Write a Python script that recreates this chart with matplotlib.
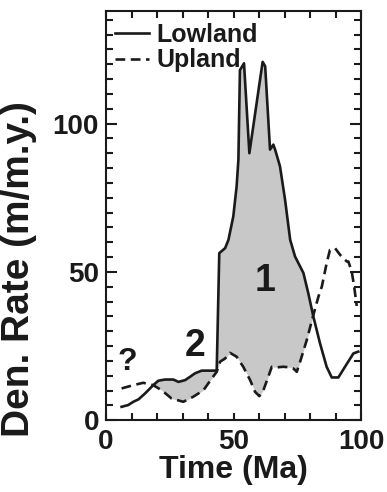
import numpy as np
import matplotlib
matplotlib.use("Agg")
import matplotlib.pyplot as plt

plt.rcParams['font.family'] = ['Liberation Sans', 'DejaVu Sans']
plt.rcParams['font.weight'] = 'bold'
plt.rcParams['lines.scale_dashes'] = False

# lowland (solid) denudation rate
low_t = [6.1, 8.7, 10.7, 12.7, 15.3, 18.5, 20.5, 23.1, 26.4, 28.4, 31.0, 32.9,
         34.9, 37.5, 42.7, 43.4, 44.4, 46.7, 48.0, 49.9, 51.2, 51.9, 52.5, 54.1,
         56.2, 61.4, 62.4, 64.3, 65.6, 66.3, 68.2, 70.2, 72.2, 74.1, 77.4, 79.3,
         81.3, 83.9, 86.5, 88.5, 91.1, 93.7, 97.0, 98.9]
low_r = [4.5, 5.1, 6.2, 7.0, 9.0, 11.8, 13.3, 13.7, 13.7, 12.9, 13.5, 14.6,
         15.8, 16.7, 16.7, 16.9, 56.3, 58.0, 60.8, 68.7, 78.8, 87.8, 118.0, 120.3,
         90.0, 120.8, 119.3, 91.2, 92.9, 91.2, 85.6, 74.3, 60.8, 55.2, 49.6, 42.8,
         34.9, 25.9, 18.0, 14.4, 14.4, 18.0, 22.5, 23.1]

# upland (dashed)
up_t = [6.1, 10.7, 14.6, 18.5, 21.8, 25.7, 30.3, 34.2, 38.2, 41.4, 43.4, 44.7,
        46.7, 48.6, 51.2, 53.8, 56.5, 58.4, 60.1, 61.7, 63.6, 65.0, 66.9, 69.5,
        72.2, 73.5, 74.8, 76.1, 78.7, 81.3, 83.3, 84.6, 86.5, 87.8, 89.8, 91.8,
        94.4, 95.0, 96.3, 97.3, 98.3]
up_r = [10.7, 11.8, 12.6, 11.8, 10.1, 7.3, 6.2, 7.9, 10.1, 14.0, 16.3, 19.7,
        20.8, 22.7, 21.4, 18.0, 13.5, 9.6, 8.1, 10.1, 14.6, 18.0, 17.8, 18.0,
        17.8, 17.4, 16.3, 19.7, 27.0, 35.5, 41.7, 45.0, 52.9, 57.4, 58.0, 55.7,
        53.5, 53.5, 50.3, 45.0, 38.5]

fig = plt.figure(figsize=(3.87, 4.92), dpi=100)
ax = fig.add_axes([0.274, 0.146, 0.659, 0.832])

# shaded area where lowland exceeds upland
grid = np.union1d(low_t, up_t)
grid = grid[(grid >= 6.1) & (grid <= 98.3)]
lo = np.interp(grid, low_t, low_r)
hi = np.interp(grid, up_t, up_r)
ax.fill_between(grid, lo, hi, where=lo > hi, interpolate=True,
                color="#c8c8c8", linewidth=0)

ax.plot(low_t, low_r, color="#1a1a1a", lw=1.9, label="Lowland")
ax.plot(up_t, up_r, color="#1a1a1a", lw=1.9, linestyle=(0, (7, 4)), label="Upland")

ax.text(62.4, 47.0, "1", fontsize=27, fontweight="bold", ha="center", va="center", color="#1a1a1a")
ax.text(34.9, 25.0, "2", fontsize=27, fontweight="bold", ha="center", va="center", color="#1a1a1a")
ax.text(8.2, 19.6, "?", fontsize=23, fontweight="bold", ha="center", va="center", color="#1a1a1a")

ax.set_xlim(0, 100)
ax.set_ylim(0, 138)
ax.set_xticks([0, 50, 100])
ax.set_xticks(np.arange(0, 101, 10), minor=True)
ax.set_yticks([0, 50, 100])
ax.set_yticks(np.arange(0, 136, 5), minor=True)
ax.tick_params(which="both", direction="in", top=True, right=True, width=1.5,
               color="#1a1a1a", labelsize=20, labelcolor="#1a1a1a")
ax.tick_params(axis="y", which="major", length=8, pad=5)
ax.tick_params(axis="y", which="minor", length=5)
ax.tick_params(axis="x", which="both", length=5, pad=6)
for s in ax.spines.values():
    s.set_linewidth(1.5)
    s.set_color("#1a1a1a")

ax.set_xlabel("Time (Ma)", fontsize=23, fontweight="bold", color="#1a1a1a", labelpad=0)
ax.set_ylabel("Den. Rate (m/m.y.)", fontsize=28, fontweight="bold", color="#1a1a1a")
ax.yaxis.set_label_coords(-0.27, 0.37)

leg = ax.legend(loc="upper left", frameon=False, fontsize=18, handlelength=1.35,
                handletextpad=0.3, borderaxespad=0.0, borderpad=0.25,
                labelspacing=0.05, bbox_to_anchor=(0.01, 0.985))
for t in leg.get_texts():
    t.set_fontweight("bold")
    t.set_color("#1a1a1a")

fig.savefig("out.png", dpi=100)
